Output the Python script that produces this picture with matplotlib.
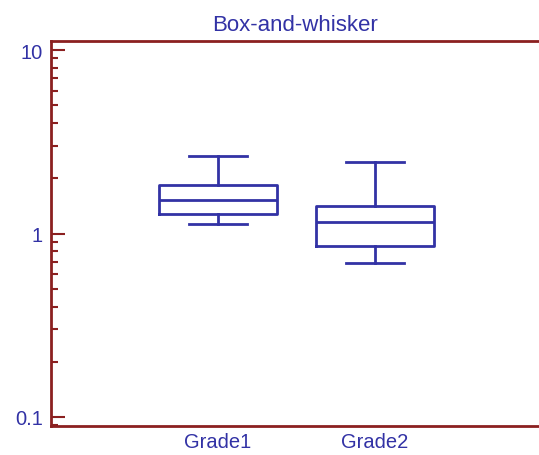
import matplotlib
matplotlib.use("Agg")
import matplotlib.pyplot as plt
from matplotlib.ticker import LogLocator, FixedLocator, NullFormatter

plt.rcParams['font.family'] = ['Liberation Sans', 'DejaVu Sans']

categories = ["Grade1", "Grade2"]
whislo = [1.127, 0.69]
q1 = [1.277, 0.855]
med = [1.52, 1.155]
q3 = [1.84, 1.41]
whishi = [2.64, 2.45]

blue = "#3232a5"
red = "#8b2020"

fig = plt.figure(figsize=(5.39, 4.56), dpi=100)
ax = fig.add_axes([51/539, 29/456, 1 - 51/539, (427-42)/456])

stats = []
for i, c in enumerate(categories):
    stats.append(dict(label=c, whislo=whislo[i], q1=q1[i], med=med[i],
                      q3=q3[i], whishi=whishi[i], fliers=[]))

lp = dict(color=blue, linewidth=2)
ax.bxp(stats, positions=[1, 2], widths=0.75, capwidths=0.37,
       showfliers=False, boxprops=lp, whiskerprops=lp, capprops=lp,
       medianprops=lp)

ax.set_yscale('log')
ax.set_ylim(0.0893, 11.2)
ax.set_xlim(-0.064, 3.044)
ax.yaxis.set_major_locator(FixedLocator([0.1, 1, 10]))
ax.yaxis.set_minor_locator(LogLocator(base=10, subs=range(2, 10)))
ax.yaxis.set_minor_formatter(NullFormatter())
ax.set_yticklabels(["0.1", "1", "10"])
ax.set_xticks([1, 2])
ax.set_xticklabels(categories)

for s in ['left', 'bottom', 'top']:
    ax.spines[s].set_color(red)
    ax.spines[s].set_linewidth(2)
ax.spines['right'].set_visible(False)

ax.tick_params(axis='y', which='major', direction='in', length=10, width=1.5,
               color=red, labelcolor=blue, labelsize=14.5, pad=6)
ax.tick_params(axis='y', which='minor', direction='in', length=5, width=1.5,
               color=red)
ax.tick_params(axis='x', which='both', length=0, labelcolor=blue,
               labelsize=14.5, pad=4)

ax.set_title("Box-and-whisker", color=blue, fontsize=16, pad=8)

fig.savefig("out.png", dpi=100)
